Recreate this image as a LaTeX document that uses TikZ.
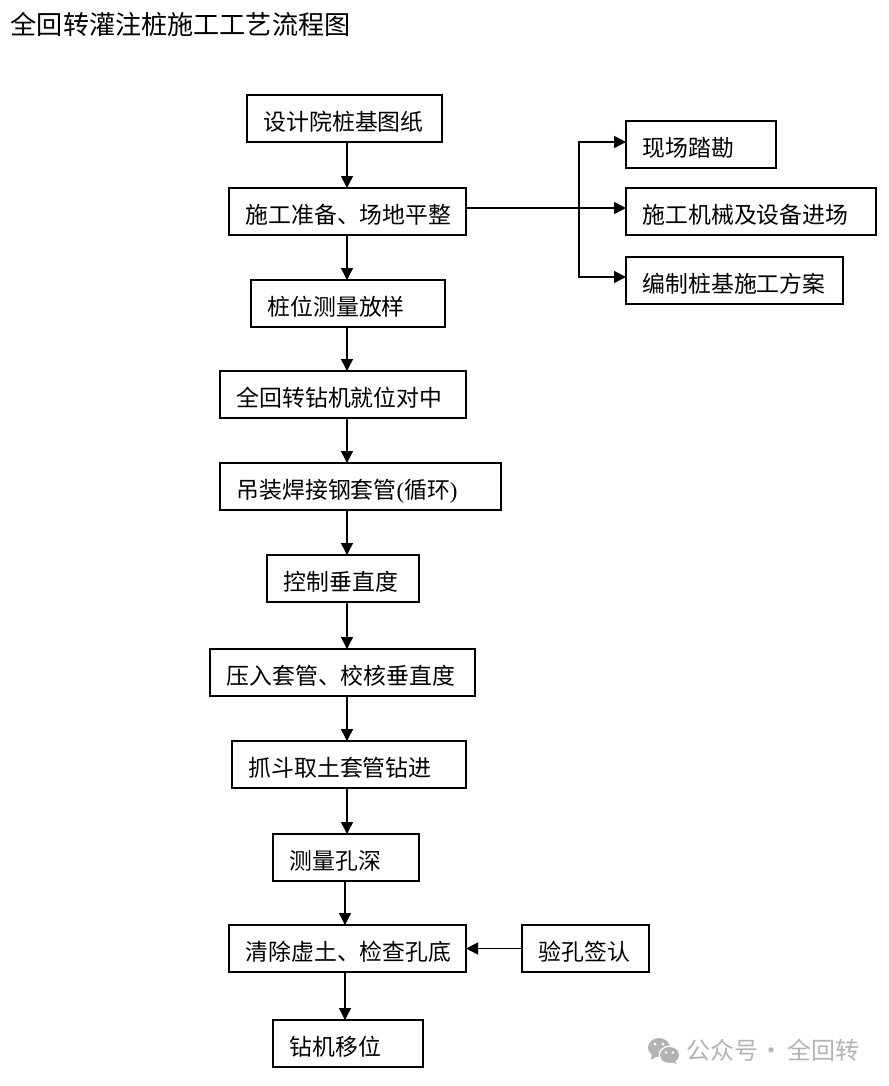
\documentclass[tikz,border=0pt]{standalone}
\usepackage{fontspec}
\setmainfont{Liberation Serif}
\newfontfamily\cjk{Noto Sans CJK SC}
\usetikzlibrary{arrows.meta}
\definecolor{markgray}{HTML}{B3B3B3}
\tikzset{
    flowbox/.style={draw,rectangle,line width=1.5pt,outer sep=0pt,inner xsep=12.4pt,inner ysep=0pt,
        minimum height=35.25pt,text height=19.5pt,text depth=2pt,align=left,anchor=north west,
        font=\fontsize{17.15}{20}\selectfont\cjk},
    flowline/.style={line width=1.1pt},
    flowarrow/.style={flowline,->},
    titletext/.style={anchor=west,inner sep=0pt,font=\fontsize{19.6}{22}\selectfont\cjk},
    marktext/.style={anchor=west,inner sep=0pt,text=markgray,font=\fontsize{18}{20}\selectfont\cjk}
}
\begin{document}
\begin{tikzpicture}[x=0.75pt,y=-0.75pt,>={Triangle[length=9pt,width=9pt]}]

        \useasboundingbox (0,0) rectangle (889,1086);

        % title
        \node[titletext] (title) at (10.5,24) {全回转灌注桩施工工艺流程图};

        % draw the boxes: name/left/top/width/text
        \foreach \nm/\x/\y/\w/\xtext in {
            design/247/95/195/设计院桩基图纸,
            prepare/229/188/237/施工准备、场地平整,
            survey/251/280/194/桩位测量放样,
            align/220/371/246/全回转钻机就位对中,
            weld/220/463/281/{吊装焊接钢套管{\rmfamily (}循环{\rmfamily )}},
            plumb/267/555/152/控制垂直度,
            press/210/649/265/压入套管、校核垂直度,
            grab/232/741/234/抓斗取土套管钻进,
            depth/273/834/146/测量孔深,
            clean/229/925/237/清除虚土、检查孔底,
            move/273/1020/150/钻机移位,
            sign/522/925/127/验孔签认,
            site/626/121/150/现场踏勘,
            machine/626/188/250/施工机械及设备进场,
            plan/626/257/217/编制桩基施工方案}
        {
                \pgfmathsetmacro\tw{(\w-33)*0.75}
                \node[flowbox,text width=\tw pt] (\nm) at (\x,\y) {\xtext};
        }

        % the main line
        \coordinate (axis) at (347,0);
        \coordinate (axislow) at (345,0);
        \foreach \a/\b in {design/prepare,prepare/survey,survey/align,align/weld,weld/plumb,plumb/press,press/grab,grab/depth}
                \draw[flowarrow] (\a.south -| axis) -- (\b.north -| axis);
        \foreach \a/\b in {depth/clean,clean/move}
                \draw[flowarrow] (\a.south -| axislow) -- (\b.north -| axislow);
        \draw[flowarrow] (sign.west) -- (clean.east);

        % the branch to the right
        \coordinate (fork) at (579,208);
        \coordinate (forkup) at (579,142);
        \coordinate (forkdown) at (579,277);
        \draw[flowarrow] (prepare.east |- fork) -- (machine.west |- fork);
        \draw[flowarrow] (fork) -- (forkup) -- (site.west |- forkup);
        \draw[flowarrow] (fork) -- (forkdown) -- (plan.west |- forkdown);

        % the mark at the bottom
        \fill[markgray] (659,1047.5) ellipse (11 and 9.5);
        \fill[markgray] (652,1053) -- (651,1060) -- (659,1055) -- cycle;
        \fill[white] (669.5,1055) ellipse (11 and 9.5);
        \fill[markgray] (669.5,1055) ellipse (9.5 and 8);
        \fill[markgray] (674,1060) -- (677,1064) -- (667,1061) -- cycle;
        \foreach \x/\y in {655/1044,663/1044}
                \fill[white] (\x,\y) circle(1.5);
        \foreach \x/\y in {666/1052.5,673/1052.5}
                \fill[white] (\x,\y) circle(1.3);
        \node[marktext] (mark) at (686,1050) {公众号\hspace{1pt}·\hspace{3pt}全回转};
    \end{tikzpicture}
\end{document}
